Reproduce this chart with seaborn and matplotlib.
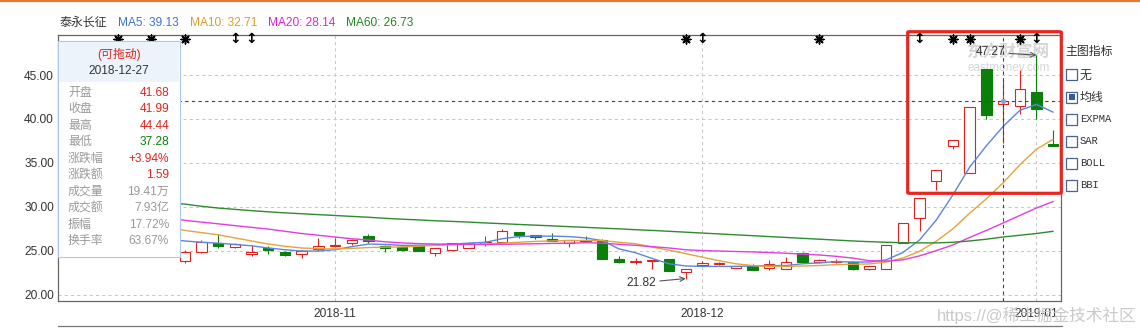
import numpy as np
import pandas as pd
import matplotlib
matplotlib.use("Agg")
import matplotlib.pyplot as plt
import matplotlib.transforms as mtransforms
from matplotlib.patches import Rectangle, FancyBboxPatch
from matplotlib.lines import Line2D
import seaborn as sns

# ---------------------------------------------------------------- data
stock_name = "泰永长征"
dates = ["2018-10-15", "2018-10-16", "2018-10-17", "2018-10-18", "2018-10-19",
         "2018-10-22", "2018-10-23", "2018-10-24", "2018-10-25", "2018-10-26",
         "2018-10-29", "2018-10-30", "2018-10-31",
         "2018-11-01", "2018-11-02", "2018-11-05", "2018-11-06", "2018-11-07",
         "2018-11-08", "2018-11-09", "2018-11-12", "2018-11-13", "2018-11-14",
         "2018-11-15", "2018-11-16", "2018-11-19", "2018-11-20", "2018-11-21",
         "2018-11-22", "2018-11-23", "2018-11-26", "2018-11-27", "2018-11-28",
         "2018-11-29", "2018-11-30",
         "2018-12-03", "2018-12-04", "2018-12-05", "2018-12-06", "2018-12-07",
         "2018-12-10", "2018-12-11", "2018-12-12", "2018-12-13", "2018-12-14",
         "2018-12-17", "2018-12-18", "2018-12-19", "2018-12-20", "2018-12-21",
         "2018-12-24", "2018-12-25", "2018-12-26", "2018-12-27", "2018-12-28",
         "2019-01-02", "2019-01-03"]

N = None  # hidden behind the info panel / not readable
open_ = [N, N, N, N,
         23.82, 24.81, 25.88, 25.38, 24.62, 25.26, 24.89, 24.62, 25.15, 25.49,
         25.88, 26.71, 25.57, 25.45, 25.65, 24.74, 25.12, 25.30, 25.76, 25.95,
         27.13, 26.79, 26.37, 25.88, 26.22, 26.26, 24.00, 23.71, 23.82, 24.01,
         22.60, 23.37, 23.43, 23.02, 23.29, 23.02, 22.91, 24.77, 23.71, 23.67,
         23.74, 22.86, 22.86, 25.88, 28.74, 32.97, 36.97, 33.88, 45.65, 41.68,
         41.46, 43.06, 37.19]
close = [N, N, N, N,
         24.89, 26.03, 25.49, 25.76, 24.89, 25.08, 24.47, 24.97, 25.53, 25.65,
         26.26, 26.11, 25.30, 25.08, 24.93, 25.30, 25.84, 25.84, 26.03, 27.25,
         26.75, 26.56, 26.07, 26.22, 26.07, 24.05, 23.72, 23.86, 23.93, 22.71,
         22.91, 23.55, 23.55, 23.21, 22.83, 23.48, 23.67, 23.67, 23.93, 23.86,
         22.86, 23.25, 25.65, 28.17, 31.02, 34.22, 37.65, 41.38, 40.40, 41.99,
         43.44, 41.08, 36.92]
high = [N, N, N, N,
        25.08, 26.26, 26.87, 25.82, 25.65, 25.49, 25.00, 25.10, 26.45, 26.45,
        26.30, 26.90, 25.69, 25.60, 25.69, 25.30, 25.92, 25.99, 26.68, 27.43,
        27.17, 26.79, 26.98, 26.26, 26.64, 26.30, 24.35, 24.17, 23.95, 24.01,
        22.95, 23.86, 23.67, 23.29, 23.48, 23.94, 24.24, 24.81, 24.05, 24.05,
        23.82, 23.25, 25.65, 28.17, 31.02, 34.22, 37.65, 41.38, 45.65, 44.44,
        45.57, 47.27, 38.79]
low = [N, N, N, N,
       23.59, 24.78, 25.26, 25.30, 24.35, 24.66, 24.43, 24.17, 24.97, 25.40,
       25.69, 25.88, 24.80, 24.95, 24.90, 24.43, 25.08, 25.30, 25.57, 25.90,
       26.41, 26.30, 26.07, 25.45, 26.00, 24.01, 23.57, 23.48, 22.91, 22.67,
       21.82, 23.37, 23.33, 22.98, 22.79, 22.83, 22.91, 23.56, 23.60, 23.63,
       22.79, 22.76, 22.86, 25.88, 27.29, 31.94, 36.62, 33.88, 40.05, 37.28,
       40.54, 40.05, 36.92]

ma5 = [N, N, N,
       26.30, 26.10, 25.95, 25.85, 25.70, 25.55, 25.30, 25.10, 24.95, 24.95,
       25.10, 25.45, 25.75, 25.70, 25.60, 25.60, 25.65, 25.75, 25.85, 25.95,
       26.35, 26.60, 26.65, 26.65, 26.60, 26.45, 26.14, 25.20, 24.75, 24.10,
       23.50, 23.25, 23.20, 23.20, 23.20, 23.25, 23.30, 23.30, 23.50, 23.60,
       23.75, 23.70, 23.70, 23.95, 24.78, 26.21, 28.48, 31.36, 34.51, 36.94,
       39.13, 40.97, 41.66, 40.77]
ma10 = [N, N, N,
        27.60, 27.30, 27.05, 26.80, 26.45, 26.10, 25.75, 25.50, 25.30, 25.22,
        25.19, 25.25, 25.35, 25.40, 25.42, 25.50, 25.60, 25.65, 25.70, 25.75,
        25.85, 25.95, 26.05, 26.10, 26.15, 26.15, 26.14, 25.95, 25.78, 25.40,
        25.05, 24.65, 24.25, 23.85, 23.50, 23.30, 23.20, 23.20, 23.25, 23.30,
        23.40, 23.45, 23.48, 23.70, 24.15, 24.93, 26.07, 27.49, 29.26, 30.90,
        32.71, 34.77, 36.55, 37.68]
ma20 = [N, N, N,
        28.70, 28.45, 28.25, 28.05, 27.85, 27.65, 27.45, 27.20, 26.95, 26.75,
        26.55, 26.35, 26.20, 26.00, 25.88, 25.80, 25.75, 25.72, 25.70, 25.70,
        25.72, 25.75, 25.78, 25.82, 25.85, 25.90, 25.85, 25.72, 25.60, 25.45,
        25.30, 25.10, 25.00, 24.95, 24.90, 24.85, 24.78, 24.70, 24.60, 24.50,
        24.35, 24.15, 23.85, 23.80, 23.95, 24.40, 25.00, 25.65, 26.50, 27.30,
        28.14, 29.00, 29.85, 30.60]
ma60 = [N, N, N,
        30.45, 30.30, 30.05, 29.85, 29.70, 29.55, 29.42, 29.30, 29.20, 29.10,
        29.00, 28.90, 28.80, 28.68, 28.58, 28.50, 28.40, 28.33, 28.25, 28.15,
        28.07, 27.98, 27.90, 27.82, 27.73, 27.65, 27.56, 27.48, 27.38, 27.30,
        27.20, 27.10, 27.00, 26.90, 26.80, 26.70, 26.60, 26.50, 26.40, 26.30,
        26.20, 26.10, 26.02, 25.95, 25.90, 25.88, 25.88, 25.95, 26.10, 26.30,
        26.55, 26.75, 26.95, 27.20]

legend_names = ["MA5", "MA10", "MA20", "MA60"]
legend_values = [39.13, 32.71, 28.14, 26.73]

cursor_date = "2018-12-27"
info_labels = ["开盘", "收盘", "最高", "最低", "涨跌幅", "涨跌额",
               "成交量", "成交额", "振幅", "换手率"]
info_values = ["41.68", "41.99", "44.44", "37.28", "+3.94%", "1.59",
               "19.41万", "7.93亿", "17.72%", "63.67%"]

star_dates = ["2018-10-15", "2018-10-17", "2018-10-19", "2018-11-30",
              "2018-12-12", "2018-12-24", "2018-12-25", "2018-12-28"]
arrow_dates = ["2018-10-24", "2018-10-25", "2018-12-03", "2018-12-20",
               "2019-01-02"]

max_date, max_value = "2019-01-02", 47.27
min_date, min_value = "2018-11-30", 21.82

yticks = [20, 25, 30, 35, 40, 45]
month_labels = ["2018-11", "2018-12", "2019-01"]

indicator_title = "主图指标"
indicator_items = ["无", "均线", "EXPMA", "SAR", "BOLL", "BBI"]
indicator_checked = "均线"

# ---------------------------------------------------------------- style
sns.set_theme(style="white")
plt.rcParams['font.family'] = ['Liberation Sans', 'Noto Sans CJK SC', 'DejaVu Sans']
plt.rcParams['axes.unicode_minus'] = False

RED = '#e0231c'
GREEN = '#0a7f0a'
MA_COLORS = ['#5b86e0', '#e6a33c', '#e23de0', '#2e8b2e']
TITLE_COLORS = ['#3f6fd8', '#e09a28', '#e020e0', '#1f871f']
TEXT = '#333333'
FS = 8.6

W, H, DPI = 1140, 328, 100
fig = plt.figure(figsize=(W / DPI, H / DPI), dpi=DPI)
fig.patch.set_facecolor('white')


def fx(px):
    return px / W


def fy(py):
    return 1 - py / H


ax = fig.add_axes([fx(58), fy(301), (1061 - 58) / W, (301 - 34.5) / H])
ax.set_facecolor('white')

pos = np.arange(len(dates))
didx = {d: i for i, d in enumerate(dates)}
o = np.array(open_, dtype=float)
c = np.array(close, dtype=float)
h = np.array(high, dtype=float)
l = np.array(low, dtype=float)
valid = ~np.isnan(o)
up = c >= o

# candles
cols = np.array([RED if u else GREEN for u in up])
ax.vlines(pos[valid], l[valid], h[valid], colors=cols[valid], linewidth=0.8, zorder=2)
bottom = np.minimum(o, c)
height = np.maximum(np.abs(c - o), 0.06)
faces = np.array(['white' if u else GREEN for u in up])
ax.bar(pos[valid], height[valid], bottom=bottom[valid], width=0.62,
       color=faces[valid], edgecolor=cols[valid], linewidth=0.8, zorder=3)

# moving averages
ma_df = pd.DataFrame({'pos': pos, 'MA5': ma5, 'MA10': ma10, 'MA20': ma20, 'MA60': ma60})
for name, col in zip(legend_names, MA_COLORS):
    sns.lineplot(data=ma_df, x='pos', y=name, ax=ax, color=col, linewidth=1.0,
                 errorbar=None, legend=False, zorder=4)
ax.set_xlabel('')
ax.set_ylabel('')

# axes limits / ticks / grid
ax.set_xlim(-3.59, 56.47)
ax.set_ylim(19.26, 49.62)
month_pos = []
seen = set()
for i, d in enumerate(dates):
    m = d[:7]
    if m not in seen:
        seen.add(m)
        if m in month_labels:
            month_pos.append(i)
ax.set_xticks(month_pos)
ax.set_xticklabels(month_labels)
ax.set_yticks(yticks)
ax.set_yticklabels([f'{v:.2f}' for v in yticks])
ax.tick_params(axis='both', length=0, labelsize=FS, labelcolor=TEXT)
ax.tick_params(axis='y', pad=3)
ax.tick_params(axis='x', pad=5)
ax.grid(True, color='#c8c8c8', linestyle=(0, (3, 3)), linewidth=0.75)
ax.set_axisbelow(True)
for sp in ax.spines.values():
    sp.set_visible(True)
    sp.set_color('#666666')
    sp.set_linewidth(0.9)

# eastmoney watermark (inside the axes, beneath the marks)
ax.text(fx(1008), fy(52.5), '东方财富网', transform=fig.transFigure, fontsize=12,
        color='#d6d6d6', ha='center', va='center', zorder=1, fontweight='bold')
ax.text(fx(1009), fy(68), 'eastmoney.com', transform=fig.transFigure, fontsize=8.5,
        color='#d6d6d6', ha='center', va='center', zorder=1)

# crosshair
ci = didx[cursor_date]
ax.axvline(ci, color='#444444', linestyle=(0, (3, 3)), linewidth=0.8, zorder=5)
ax.axhline(c[ci], color='#444444', linestyle=(0, (3, 3)), linewidth=0.8, zorder=5)
ax.scatter([ci], [c[ci]], s=14, color='#7aa6e6', zorder=6, linewidths=0)

# top event markers
trans = mtransforms.blended_transform_factory(ax.transData, ax.transAxes)
sx = [didx[d] for d in star_dates]
ax.scatter(sx, [0.983] * len(sx), transform=trans, marker=(8, 2, 0), s=40,
           color='black', linewidths=1.1, zorder=7, clip_on=False)
ax.scatter(sx, [0.983] * len(sx), transform=trans, marker='o', s=10,
           color='black', linewidths=0, zorder=7, clip_on=False)
for d in arrow_dates:
    ax.text(didx[d], 0.983, '↕', transform=trans, ha='center', va='center',
            fontsize=10, fontweight='bold', color='black', family='DejaVu Sans',
            zorder=7)

# max / min annotations
ax.annotate(f'{max_value:.2f}', xy=(didx[max_date], max_value),
            xytext=(-22, 2), textcoords='offset points', ha='right', va='center',
            fontsize=FS, color=TEXT,
            arrowprops=dict(arrowstyle='->', color='#555555', lw=0.8,
                            shrinkA=0, shrinkB=0), zorder=8)
ax.annotate(f'{min_value:.2f}', xy=(didx[min_date], min_value),
            xytext=(-21, -3), textcoords='offset points', ha='right', va='center',
            fontsize=FS, color=TEXT,
            arrowprops=dict(arrowstyle='->', color='#555555', lw=0.8,
                            shrinkA=0, shrinkB=0), zorder=8)

# ---------------------------------------------------------------- decorations
# top orange rule
fig.add_artist(Line2D([0, 1], [fy(0.8), fy(0.8)], transform=fig.transFigure,
                      color='#e8772e', linewidth=1.6, zorder=2))

# title row
fig.text(fx(60), fy(22.5), stock_name, fontsize=FS, color=TEXT, va='center', ha='left')
title_x = [118, 190, 268, 346]
for name, val, tcol, xx in zip(legend_names, legend_values, TITLE_COLORS, title_x):
    fig.text(fx(xx), fy(22.5), f'{name}: {val:.2f}', fontsize=FS, color=tcol,
             va='center', ha='left')

# info panel
fig.add_artist(Rectangle((fx(58), fy(257)), (180 - 58) / W, (257 - 41) / H,
                         transform=fig.transFigure, facecolor='white',
                         edgecolor='#a9c8ea', linewidth=0.8, zorder=5))
fig.add_artist(Rectangle((fx(58.6), fy(82)), (179.4 - 58.6) / W, (82 - 41.6) / H,
                         transform=fig.transFigure, facecolor='#edf3fb',
                         edgecolor='none', linewidth=0, zorder=5.1))
fig.text(fx(119), fy(54.5), '(可拖动)', fontsize=FS, color=RED, ha='center',
         va='center', zorder=6)
fig.text(fx(119), fy(70.5), cursor_date, fontsize=FS, color=TEXT, ha='center',
         va='center', zorder=6)
value_colors = [RED, RED, RED, GREEN, RED, RED, '#999999', '#999999', '#999999', '#999999']
for k, (lab, val, vc) in enumerate(zip(info_labels, info_values, value_colors)):
    yy = 92.7 + k * 16.5
    fig.text(fx(68), fy(yy), lab, fontsize=FS, color='#9a9a9a', ha='left',
             va='center', zorder=6)
    fig.text(fx(169), fy(yy), val, fontsize=FS, color=vc, ha='right',
             va='center', zorder=6)

# highlight box
fig.add_artist(FancyBboxPatch((fx(907.7), fy(193.3)), (1061.3 - 907.7) / W,
                              (193.3 - 31.7) / H, boxstyle='round,pad=0,rounding_size=0.002',
                              transform=fig.transFigure, facecolor='none',
                              edgecolor='#e6261f', linewidth=2.3, zorder=10))

# indicator selector
fig.text(fx(1065), fy(52), indicator_title, fontsize=FS, color=TEXT,
         ha='left', va='center')
for k, item in enumerate(indicator_items):
    yc = 75 + k * 22.1
    fig.add_artist(Rectangle((fx(1066), fy(yc + 5.5)), 11 / W, 11 / H,
                             transform=fig.transFigure, facecolor='white',
                             edgecolor='#46648f', linewidth=0.9, zorder=3))
    if item == indicator_checked:
        fig.add_artist(Rectangle((fx(1068.5), fy(yc + 3)), 6 / W, 6 / H,
                                 transform=fig.transFigure, facecolor='#3a5aa0',
                                 edgecolor='none', zorder=3.1))
    is_ascii = all(ord(ch) < 128 for ch in item)
    fig.text(fx(1080), fy(yc), item, fontsize=(7.6 if is_ascii else FS),
             color=TEXT, ha='left', va='center',
             family=(['Liberation Mono'] if is_ascii else ['Noto Sans CJK SC']))

# lower panel top edge
fig.add_artist(Line2D([fx(58), fx(1062)], [fy(326), fy(326)], transform=fig.transFigure,
                      color='#777777', linewidth=0.9, zorder=2))

# site watermark
fig.text(fx(1137), fy(315), 'https://@稀土掘金技术社区', fontsize=12, color='#c4c4c4',
         ha='right', va='center', zorder=9, alpha=0.9)

fig.savefig('out.png', dpi=DPI, facecolor='white')
